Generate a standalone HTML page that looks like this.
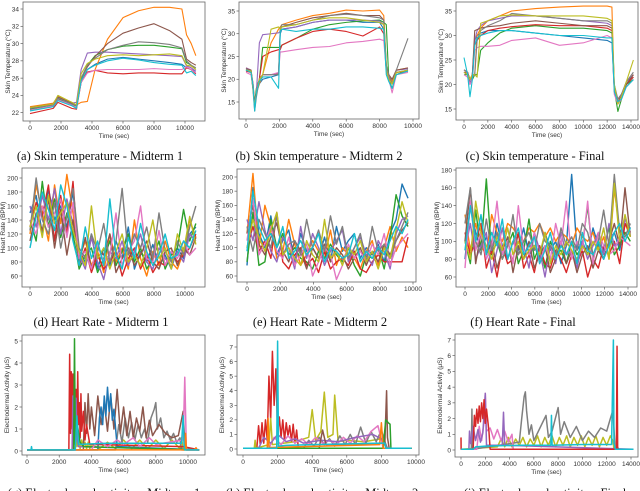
<!DOCTYPE html>
<html><head><meta charset="utf-8">
<style>
html,body{margin:0;padding:0;background:#fff;}
svg{display:block;}
.tk{font-family:"Liberation Sans",sans-serif;font-size:6.5px;fill:#333;}
.al{font-family:"Liberation Sans",sans-serif;font-size:6.5px;fill:#333;}
.cap{font-family:"Liberation Serif",serif;font-size:12.5px;fill:#111;}
</style></head>
<body>
<svg id="fig" width="640" height="491" viewBox="0 0 640 491" xmlns="http://www.w3.org/2000/svg">
<text class="cap" x="100" y="160" text-anchor="middle">(a) Skin temperature - Midterm 1</text>
<text class="cap" x="319" y="160" text-anchor="middle">(b) Skin temperature - Midterm 2</text>
<text class="cap" x="535" y="160" text-anchor="middle">(c) Skin temperature - Final</text>
<text class="cap" x="101" y="326" text-anchor="middle">(d) Heart Rate - Midterm 1</text>
<text class="cap" x="320" y="326" text-anchor="middle">(e) Heart Rate - Midterm 2</text>
<text class="cap" x="523" y="326" text-anchor="middle">(f) Heart Rate - Final</text>
<text class="cap" x="104" y="497" text-anchor="middle">(g) Electrodermal activity - Midterm 1</text>
<text class="cap" x="322" y="497" text-anchor="middle">(h) Electrodermal activity - Midterm 2</text>
<text class="cap" x="545" y="497" text-anchor="middle">(i) Electrodermal activity - Final</text>
</svg>
<script>
const colors=["#1f77b4","#ff7f0e","#2ca02c","#d62728","#9467bd","#8c564b","#e377c2","#7f7f7f","#bcbd22","#17becf"];
const seriesNames=["blue","orange","green","red","purple","brown","pink","gray","olive","cyan"];

const aTimes=[0,1500,1800,2700,3000,3300,3700,4200,5000,6000,7000,8000,9000,9800,10100,10400,10700];
const aBlue  =[22.5,23,23.8,23.1,22.8,25.5,27,27.6,28.2,28.4,28.2,28,27.8,27.6,27.2,27,26.8];
const aOrange=[22.7,23.1,23.9,23.2,22.9,23.2,23.3,27,30.5,33,33.8,34.2,34.2,34,31,30,28.6];
const aGreen =[22.4,22.9,23.6,23,22.6,25.8,27.5,28.6,29.3,29.7,29.8,29.8,29.6,29.4,27.8,27.5,27];
const aRed   =[21.9,22.5,23.2,22.5,22.4,25.5,26.7,26.9,26.6,26.5,26.6,26.6,26.5,26.5,27.2,27,26.5];
const aPurple=[22.5,23,23.8,23.1,23.2,27,28.9,29,29,28.9,28.8,28.7,28.6,28.5,27.4,27.2,26.8];
const aBrown =[22.6,23,23.8,23.1,22.8,26,27.3,28.5,30,31.2,31.8,32.3,31.5,30.5,28.2,27.8,27.5];
const aPink  =[22.3,22.8,23.5,22.9,22.6,25.5,26.6,26.9,27,27,27,27.1,27,27,27.3,27,26.6];
const aGray  =[22.5,22.9,23.7,23,22.9,26,27.5,28.3,29.3,29.8,30.2,30.1,29.9,29.5,28,27.5,27.2];
const aOlive =[22.6,23,24,23.2,22.9,26.5,27.7,28.2,28.6,28.7,28.6,28.7,28.8,28.6,27.5,27.4,27];
const aCyan  =[22.2,22.7,23.4,22.8,22.5,25.7,27,27.5,28,28.3,28.1,27.8,27.6,27.5,26.6,26.8,26.3];
const aSeries=[aBlue,aOrange,aGreen,aRed,aPurple,aBrown,aPink,aGray,aOlive,aCyan];

const bTimes=[0,300,420,520,620,800,1000,1500,1950,2050,2150,3000,4000,5000,6000,7000,8000,8250,8400,8550,8750,9000,9700];
const bBlue  =[22,21.5,19,14,17,19,20,20.5,21,30,31,31.5,32.5,33,33,32.5,32.5,31,22,20,19,21.5,22];
const bOrange=[22.5,22,19,15,17,19,21,28,31,31.5,32,33,34,34.5,35.2,35,35.2,34,23,21,19.5,22,22.5];
const bGreen =[22,21.8,18,15,18,20,27,27,27,27,27.5,29,31,32,32.5,32.8,33,32.5,32,20,18,21,22];
const bRed   =[21.8,21.5,18,15,17,20,25,26,26.5,26.5,27.5,29,30.5,31,30.5,29.5,31.5,30,22,20,19,21.5,21.8];
const bPurple=[22.5,22,19,14,17,28,29.8,30,30.2,30.5,31,31.5,32.5,33,33,33,32.8,32,22,20.5,19,22,22.3];
const bBrown =[22.3,22,18,15,17,20,21,21,21.2,31,31.5,32.5,33.5,34,34.5,34,34,33,23,21,20,22,22.5];
const bPink  =[21.5,21,18,14,17,20,21,21,21.5,26,26,26.5,27,27.2,28,28.3,28.8,28.5,22,20,17,21,21.5];
const bGray  =[22.2,21.8,17.5,13,16,20,21,21,21,31,32,32,33,34,34.3,34,33.5,33,23,21,19,22,29];
const bOlive =[22,21.8,18,14,17,20,21,31,31.5,31,31.5,32,33,33.5,33.5,33,32.5,32,22,20,19,21.5,22];
const bCyan  =[22,21.5,18.5,13,17,19.5,20.5,20.5,18,30.5,31,30.5,31,31,31.5,31.5,31.2,31,21,19.5,18,21,21.8];
const bSeries=[bBlue,bOrange,bGreen,bRed,bPurple,bBrown,bPink,bGray,bOlive,bCyan];

const cTimes=[0,300,500,700,900,1100,1400,2000,3000,4000,6000,8000,10000,12000,12400,12600,12900,13200,13600,14200];
const cBlue  =[22.5,22,21,22,29,30,30.5,31,31,31,30.5,30,29.5,29,28.5,19,17,18,20,21.5];
const cOrange=[23,22.5,21,22,22,30,31.5,33,34,35,35.5,35.8,36,36,35.8,19,17,18,20,22];
const cGreen =[22,22,20.5,21,22,22,27,28.5,30.5,31.5,32,31.5,31.5,31,30.5,19,14.5,17,20,21];
const cRed   =[22.5,22.5,21,22,28,29,30,31,31.5,31.8,32.2,32,32,31.5,31,18.5,17,17.5,20,21.5];
const cPurple=[23,22.5,20,22,29,31,32,33,33.5,34,34,33.5,33,32.5,32,19,17,18,20.5,22];
const cBrown =[22.5,22,21,22,31,31.2,31.5,31.8,32,32.5,33,32.5,32,32,31.5,19,16.5,17.5,20,22];
const cPink  =[22,21.5,20,21,27,27.5,27.8,27.8,28,29,29.5,28,28.5,30,29.5,18,16,17,19.5,21];
const cGray  =[23,22.5,21,21.5,22,29,31,32,33,34.5,34,33.5,33,33,32.5,20,17,18,20.5,22.5];
const cOlive =[22.5,22,21,22,22,21.5,32.5,33,34,34.2,34,34,34,33.5,33,20,16,17.5,20.5,25];
const cCyan  =[25.5,22,17.5,21,28,29.5,30,30.5,31,31,30.5,30,30,29.5,29.5,18.5,16.5,17,19.5,21];
const cSeries=[cBlue,cOrange,cGreen,cRed,cPurple,cBrown,cPink,cGray,cOlive,cCyan];

const dEnd=[10700];
const dBlue  =[150,175,120,185,140,160,130,180,95,80,120,70,100,75,110,85,130,70,95,80,105,75,90,70,100,85,120,130];
const dOrange=[120,190,150,110,190,135,205,150,85,110,75,95,65,120,80,100,70,140,85,60,95,75,110,80,70,95,140,115];
const dGreen =[140,110,195,130,170,115,150,120,70,90,100,65,85,110,75,95,120,80,100,70,85,110,70,90,100,155,110,135];
const dRed   =[130,165,145,190,110,175,120,195,75,100,65,90,70,80,95,60,85,100,70,90,65,80,75,95,80,90,100,120];
const dPurple=[160,130,175,140,185,120,170,135,90,70,115,80,55,95,85,110,75,95,120,80,70,100,85,75,95,80,120,110];
const dBrown =[110,150,125,170,100,155,90,140,80,115,70,100,90,120,65,85,100,75,90,110,80,70,95,100,75,100,90,115];
const dPink  =[140,120,160,130,150,170,115,165,85,95,70,105,80,90,150,75,95,110,160,85,80,125,75,95,85,110,90,100];
const dGray  =[125,200,140,120,165,100,145,185,100,85,120,95,135,80,110,185,90,120,100,130,85,150,95,80,110,90,130,160];
const dOlive =[130,160,115,175,135,150,165,125,95,75,160,85,100,70,95,120,80,90,75,100,140,85,100,70,120,95,145,105];
const dCyan  =[100,145,180,155,125,190,160,110,75,130,85,110,75,170,90,70,115,85,135,95,75,90,120,85,90,110,100,125];
const dSeries=[dBlue,dOrange,dGreen,dRed,dPurple,dBrown,dPink,dGray,dOlive,dCyan];

const eEnd=[9700];
const eBlue  =[75,185,120,100,145,90,110,125,80,120,95,100,85,115,80,130,95,110,120,85,100,90,105,80,120,140,190,170];
const eOrange=[120,205,100,160,130,85,95,140,105,75,90,110,95,85,125,75,100,90,85,70,95,110,75,100,130,95,115,100];
const eGreen =[80,150,75,80,140,100,120,90,100,85,80,70,95,85,105,90,80,100,75,60,90,85,100,70,115,175,145,130];
const eRed   =[100,130,95,110,85,150,80,70,90,100,75,85,65,95,70,80,85,75,95,70,65,80,90,80,80,80,80,115];
const ePurple=[140,110,165,125,95,80,115,100,70,130,85,120,100,75,95,110,125,80,100,115,90,75,110,95,70,120,140,145];
const eBrown =[120,160,105,90,115,135,95,80,110,95,70,100,85,105,80,100,90,70,85,100,75,95,80,105,90,110,125,135];
const ePink  =[110,170,90,105,130,95,85,115,75,90,105,60,80,100,90,55,75,105,85,95,80,105,90,120,75,100,110,120];
const eGray  =[130,95,140,120,100,145,90,105,110,90,140,100,125,95,145,105,130,85,100,120,80,130,95,105,85,110,130,150];
const eOlive =[100,140,115,95,125,150,90,100,85,75,110,90,80,140,85,95,75,100,90,110,80,95,70,100,85,125,165,135];
const eCyan  =[95,180,130,110,120,100,130,85,95,110,90,100,120,80,100,95,85,90,120,80,95,85,100,90,110,130,120,140];
const eSeries=[eBlue,eOrange,eGreen,eRed,ePurple,eBrown,ePink,eGray,eOlive,eCyan];

const fEnd=[14200];
const fBlue  =[80,140,110,90,105,85,120,95,80,100,90,115,85,95,80,110,90,100,75,95,175,90,100,85,115,95,80,100,110,90,120,115];
const fOrange=[130,90,120,95,85,130,110,100,120,115,105,100,115,110,120,105,115,100,110,105,95,115,105,100,110,90,105,80,160,110,120,105];
const fGreen =[100,75,135,90,170,85,100,80,95,110,75,90,125,80,95,70,100,85,90,75,100,85,95,140,80,100,90,115,85,95,110,100];
const fRed   =[110,85,100,120,70,90,60,95,75,80,110,70,85,65,95,75,70,90,80,65,85,75,90,60,80,70,95,85,100,75,120,110];
const fPurple=[90,120,80,95,110,65,90,115,80,100,85,95,70,110,90,60,95,75,110,85,90,70,100,80,95,110,85,120,95,100,125,110];
const fBrown =[100,160,75,110,85,100,70,90,105,65,95,80,100,70,85,95,65,80,100,75,90,65,85,95,70,90,80,100,120,95,160,105];
const fPink  =[70,145,90,110,80,95,145,85,100,75,140,90,85,110,75,95,80,120,95,145,80,100,90,145,75,110,95,85,90,105,100,95];
const fGray  =[120,160,100,85,125,90,110,80,95,130,85,100,110,90,120,100,95,85,115,95,105,90,120,110,85,100,135,95,175,110,105,120];
const fOlive =[100,80,145,110,95,80,105,90,115,85,100,80,90,95,85,110,75,95,85,100,90,80,95,85,100,90,115,80,165,100,130,105];
const fCyan  =[90,140,100,130,85,110,95,125,80,100,115,85,95,105,75,90,110,80,95,85,100,75,110,90,85,100,80,95,110,120,100,115];
const fSeries=[fBlue,fOrange,fGreen,fRed,fPurple,fBrown,fPink,fGray,fOlive,fCyan];

const gOliveT=[0,2800,2900,2950,3000,3100,3200,3300,3400,3500,3600,3700,3800,3900,4000,4500,5000,5500,6000,6500,7000,7500,8000,8500,9000,9500,9600,9700,10700];
const gOliveV=[0.05,0.05,1.2,0.1,0.9,0.2,0.6,0.1,0.5,0.2,0.4,0.1,0.4,0.1,0.3,0.1,0.4,0.1,0.5,0.1,0.5,0.1,0.5,0.1,0.5,0.1,0.6,0.05,0.05];
const gGrayT=[0,5500,5700,5900,6100,6300,6500,6700,6900,7100,7300,7500,7700,7900,8000,8100,8300,8500,8700,8900,9100,9300,9500,9600,10700];
const gGrayV=[0.05,0.05,1.2,0.4,1.5,0.6,1.3,0.5,1.2,0.6,1.0,0.4,1.5,1.9,2.2,1.0,1.5,0.6,0.9,0.5,0.8,0.4,0.6,0.05,0.05];
const gBrownT=[0,3500,3600,3700,3800,3900,4000,4200,4400,4600,4800,5000,5200,5400,5600,5800,6000,6200,6400,6600,6800,7000,7200,7400,7600,7800,8200,8600,9000,9400,9700,9800,9900,10700];
const gBrownV=[0.05,0.05,2.2,0.8,2.6,1.0,2.0,0.7,2.5,1.2,2.2,0.9,2.5,1.0,2.8,0.8,2.0,0.7,1.8,0.6,1.5,0.9,2.0,0.6,1.4,0.7,1.2,0.8,0.6,0.7,1.8,0.3,0.05,0.05];
const gBlueT=[0,4400,4500,4600,4700,4800,4900,5000,5100,5200,5300,5400,5600,10700];
const gBlueV=[0.05,0.05,1.5,2.0,1.2,2.5,1.6,2.9,1.8,2.6,1.4,1.9,0.2,0.05];
const gRedT=[0,2600,2650,2700,2750,2800,2850,2900,2950,3000,3050,3100,3150,3200,3250,3300,3350,3400,3500,3600,3700,3900,9700,10700];
const gRedV=[0.05,0.05,4.4,0.8,3.6,1.0,3.5,0.9,3.2,0.6,2.8,0.8,3.6,1.2,2.2,0.6,2.6,0.9,1.8,0.5,1.2,0.3,0.2,0.05];
const gPurpleT=[0,2800,2850,2900,2950,3000,3050,3100,3200,10700];
const gPurpleV=[0.05,0.05,2.5,1.5,3.1,1.2,2.4,0.6,0.2,0.05];
const gGreenT=[0,2900,2950,3000,3100,3300,3500,10700];
const gGreenV=[0.05,0.05,5.1,0.3,1.3,0.4,0.2,0.05];
const gPinkT=[0,4000,4400,5000,5600,6000,6600,7000,7600,8000,9700,9800,9900,10700];
const gPinkV=[0.05,0.05,0.5,0.2,0.5,0.3,0.6,0.2,0.6,0.3,0.5,3.35,0.05,0.05];
const gOrangeT=[0,9800,9850,9900,10400,10500,10550,10700];
const gOrangeV=[0.05,0.05,0.8,0.05,0.05,0.15,0.05,0.05];
const gCyanT=[0,250,280,310,3000,3100,3200,5000,7000,9000,9600,9700,9750,9800,10700];
const gCyanV=[0.05,0.05,0.2,0.05,0.05,1.6,0.3,0.35,0.35,0.35,0.35,1.6,0.3,0.05,0.05];
const gSeriesT=[gOliveT,gGrayT,gBrownT,gBlueT,gRedT,gPurpleT,gGreenT,gPinkT,gOrangeT,gCyanT];
const gSeriesV=[gOliveV,gGrayV,gBrownV,gBlueV,gRedV,gPurpleV,gGreenV,gPinkV,gOrangeV,gCyanV];
const gColors=[8,7,5,0,3,4,2,6,1,9];

const hRedT=[0,800,900,1000,1100,1200,1300,1400,1500,1600,1700,1800,1900,2000,2100,2200,2300,2400,2500,2600,2700,2800,2900,3000,3100,3200,9750];
const hRedV=[0.05,0.05,1.6,0.3,1.8,0.4,2.0,0.6,5.0,2.0,6.7,3.0,5.5,1.0,2.2,0.8,2.0,0.6,1.8,0.9,1.6,0.5,1.7,0.4,1.3,0.05,0.05];
const hOliveT=[0,650,700,750,1500,1600,1700,3000,3800,4000,4200,4500,4700,4900,5200,5300,5500,6000,7000,8000,8200,8300,9750];
const hOliveV=[0.05,0.05,0.6,0.05,0.3,2.1,0.3,0.5,0.8,2.7,0.6,1.2,3.9,0.8,1.0,3.7,0.5,0.6,0.5,0.7,0.5,0.05,0.05];
const hGrayT=[0,3500,3800,4100,4400,4700,5000,5300,5600,5900,6200,6500,6800,7100,7400,7700,8000,8200,8350,9750];
const hGrayV=[0.05,0.05,0.6,0.2,0.8,0.3,0.7,0.2,0.9,0.3,1.0,0.3,1.5,0.4,1.2,0.5,1.3,0.5,0.05,0.05];
const hPinkT=[0,1500,1800,2200,2600,3000,3400,3800,4200,4600,5000,5400,5800,6200,6600,7000,7400,7800,8000,8100,9750];
const hPinkV=[0.05,0.05,0.8,0.3,0.9,0.4,0.7,0.3,0.8,0.4,0.6,0.3,0.8,0.4,0.9,0.5,1.2,1.6,0.6,0.05,0.05];
const hPurpleT=[0,900,1200,1600,2000,2500,3000,3500,4500,5500,6500,7500,8000,8300,9750];
const hPurpleV=[0.05,0.05,0.8,0.4,1.0,0.5,0.7,0.4,0.6,0.5,0.8,1.0,0.7,0.05,0.05];
const hBrownT=[0,4400,4600,4800,8200,8300,8350,8450,9750];
const hBrownV=[0.05,0.05,1.3,0.3,0.4,4.0,0.8,0.05,0.05];
const hGreenT=[0,8100,8250,8400,8500,8550,9750];
const hGreenV=[0.05,0.05,2.0,1.8,1.7,0.05,0.05];
const hOrangeT=[0,1400,1450,1500,7900,8000,8100,9750];
const hOrangeV=[0.05,0.05,2.1,0.1,0.3,1.8,0.05,0.05];
const hCyanT=[0,1950,2000,2050,2500,4000,6000,8000,8200,8250,9750];
const hCyanV=[0.05,0.05,7.4,0.2,0.25,0.3,0.35,0.4,0.4,0.05,0.05];
const hSeriesT=[hRedT,hOliveT,hGrayT,hPinkT,hPurpleT,hBrownT,hGreenT,hOrangeT,hCyanT];
const hSeriesV=[hRedV,hOliveV,hGrayV,hPinkV,hPurpleV,hBrownV,hGreenV,hOrangeV,hCyanV];
const hColors=[3,8,7,6,4,5,2,1,9];

const iOliveT=[0,3000,3300,3600,3900,4200,4500,4800,5100,5400,5700,6000,6300,6600,6900,7200,7500,7800,8100,8400,8700,9000,9300,9600,9900,10200,10500,10800,11100,11400,11700,12000,12300,12500,12600,14200];
const iOliveV=[0.05,0.2,0.7,0.2,0.8,0.2,0.7,0.3,0.8,0.2,0.7,0.3,0.9,0.2,0.8,0.3,0.9,0.2,0.8,0.3,0.9,0.2,0.8,0.3,0.9,0.2,0.8,0.3,0.9,0.2,0.8,0.3,0.9,0.6,0.05,0.05];
const iGrayT=[0,850,900,950,4800,5000,5200,5300,5400,5600,5800,6000,6500,7000,7200,7500,8000,8200,8500,9000,9500,10000,10500,11000,11500,12000,12300,12500,12700,14200];
const iGrayV=[0.05,0.05,2.6,0.05,0.5,2.0,3.4,3.7,2.5,1.0,1.6,0.6,1.4,2.2,0.8,1.2,2.7,1.0,1.8,0.8,1.5,0.6,1.2,0.8,1.4,1.2,2.0,2.5,0.05,0.05];
const iPinkT=[0,1300,1500,1700,1900,2000,2100,2400,2700,3000,3300,3600,3900,4200,4300,14200];
const iPinkV=[0.05,0.05,1.5,0.6,1.8,3.6,1.2,1.4,0.7,1.3,0.6,1.2,0.5,1.0,0.05,0.05];
const iPurpleT=[0,650,700,800,1000,1200,1400,1600,1800,2000,2100,3400,3500,3600,14200];
const iPurpleV=[0.05,0.05,1.2,0.4,1.5,0.6,1.3,0.5,1.1,3.6,0.3,0.3,2.4,0.3,0.05];
const iRedT=[0,10,40,1000,1100,1200,1300,1400,1500,1600,1700,1800,1900,2000,2100,2300,2400,12800,12850,12900,12950,14200];
const iRedV=[0.8,0.05,0.05,0.05,2.2,1.5,2.6,1.7,2.8,1.8,3.0,2.0,3.2,1.7,2.6,1.2,0.05,0.05,6.6,0.2,0.05,0.05];
const iCyanT=[0,1000,1200,2000,5000,7400,7450,7500,10000,12400,12550,12600,12650,12700,14200];
const iCyanV=[0.05,0.05,0.2,0.25,0.3,0.3,2.2,0.3,0.35,0.35,7.0,0.4,0.3,0.05,0.05];
const iSeriesT=[iOliveT,iGrayT,iPinkT,iPurpleT,iRedT,iCyanT];
const iSeriesV=[iOliveV,iGrayV,iPinkV,iPurpleV,iRedV,iCyanV];
const iColors=[8,7,6,4,3,9];

const xTicks10k=[0,2000,4000,6000,8000,10000];
const xTicks14k=[0,2000,4000,6000,8000,10000,12000,14000];
const yTicksA=[22,24,26,28,30,32,34];
const yTicksBC=[15,20,25,30,35];
const yTicksDE=[60,80,100,120,140,160,180,200];
const yTicksF=[60,80,100,120,140,160,180];
const yTicksG=[0,1,2,3,4,5];
const yTicksHI=[0,1,2,3,4,5,6,7];

const NS="http://www.w3.org/2000/svg";
const svg=document.getElementById('fig');
function mk(tag,attrs,parent){const e=document.createElementNS(NS,tag);for(const k in attrs)e.setAttribute(k,attrs[k]);(parent||svg).appendChild(e);return e;}

function panel(id,box,xm,ym,xt,yt,ylabel){
  const g=mk('g',{});
  
  
  const X=v=>xm[1]+(v-xm[0])*(xm[3]-xm[1])/(xm[2]-xm[0]);
  const Y=v=>ym[1]+(v-ym[0])*(ym[3]-ym[1])/(ym[2]-ym[0]);
  const clipId='clip'+id;
  const cp=mk('clipPath',{id:clipId},g);
  mk('rect',{x:box[0],y:box[1],width:box[2]-box[0],height:box[3]-box[1]},cp);
  const plot=mk('g',{'clip-path':'url(#'+clipId+')'},g);
  
  
  xt.forEach(v=>{
    const x=X(v);
    mk('line',{x1:x,x2:x,y1:box[3],y2:box[3]+2.5,stroke:'#444','stroke-width':0.6},g);
    const t=mk('text',{x:x,y:box[3]+9,'text-anchor':'middle',class:'tk'},g);
    t.textContent=v;
    
    
  });
  yt.forEach(v=>{
    const y=Y(v);
    mk('line',{x1:box[0]-2.5,x2:box[0],y1:y,y2:y,stroke:'#444','stroke-width':0.6},g);
    const t=mk('text',{x:box[0]-4,y:y+2.3,'text-anchor':'end',class:'tk'},g);
    t.textContent=v;
    
    
  });
  const xl=mk('text',{x:(box[0]+box[2])/2,y:box[3]+17,'text-anchor':'middle',class:'al'},g);
  xl.textContent='Time (sec)';
  
  
  const yx=box[0]-(yt[yt.length-1]>=100?17:13);
  const yy=(box[1]+box[3])/2;
  const yl=mk('text',{x:yx,y:yy,'text-anchor':'middle',class:'al',transform:'rotate(-90 '+yx+' '+yy+')'},g);
  yl.textContent=ylabel;
  
  
  const frame=mk('rect',{x:box[0],y:box[1],width:box[2]-box[0],height:box[3]-box[1],fill:'none',stroke:'#666','stroke-width':0.8},g);
  
  
  return {X,Y,plot};
}
function line(p,ts,vs,color,name,w){
  let d='';
  for(let i=0;i<vs.length;i++){d+=(i?'L':'M')+p.X(ts[i]).toFixed(2)+' '+p.Y(vs[i]).toFixed(2);}
  const el=mk('path',{d:d,fill:'none',stroke:color,'stroke-width':w||1.1,'stroke-linejoin':'round'},p.plot);
  
  
}
function evenTimes(n,end){const t=[];for(let i=0;i<n;i++)t.push(end*i/(n-1));return t;}

let p;
p=panel('a',[23,2,205,121],[0,30,10000,185],[22,112.7,34,9],xTicks10k,yTicksA,'Skin Temperature (°C)');
aSeries.forEach((s,i)=>line(p,aTimes,s,colors[i],'series-'+seriesNames[i]));
p=panel('b',[239,2,419,119],[0,246,10000,413],[35,11,15,102],xTicks10k,yTicksBC,'Skin Temperature (°C)');
bSeries.forEach((s,i)=>line(p,bTimes,s,colors[i],'series-'+seriesNames[i]));
p=panel('c',[456,2,638,120],[0,464,14000,631],[35,11,15,109],xTicks14k,yTicksBC,'Skin Temperature (°C)');
cSeries.forEach((s,i)=>line(p,cTimes,s,colors[i],'series-'+seriesNames[i]));

p=panel('d',[22,168,205,287],[0,30,10000,185],[200,178,60,276],xTicks10k,yTicksDE,'Heart Rate (BPM)');
dSeries.forEach((s,i)=>line(p,evenTimes(s.length,dEnd[0]),s,colors[i],'series-'+seriesNames[i],1.4));
p=panel('e',[237,169,416,282],[0,247,10000,413],[200,177,60,276],xTicks10k,yTicksDE,'Heart Rate (BPM)');
eSeries.forEach((s,i)=>line(p,evenTimes(s.length,eEnd[0]),s,colors[i],'series-'+seriesNames[i],1.4));
p=panel('f',[456,168,637,287],[0,465,14000,628],[180,170,60,277],xTicks14k,yTicksF,'Heart Rate (BPM)');
fSeries.forEach((s,i)=>line(p,evenTimes(s.length,fEnd[0]),s,colors[i],'series-'+seriesNames[i],1.4));

p=panel('g',[22,335,205,455],[0,27,10000,188],[5,341,0,451],xTicks10k,yTicksG,'Electrodermal Activity (μS)');
gSeriesT.forEach((t,i)=>line(p,t,gSeriesV[i],colors[gColors[i]],'series-'+seriesNames[gColors[i]],1.5));
p=panel('h',[237,335,419,455],[0,243,10000,416],[7,347,0,449],xTicks10k,yTicksHI,'Electrodermal Activity (μS)');
hSeriesT.forEach((t,i)=>line(p,t,hSeriesV[i],colors[hColors[i]],'series-'+seriesNames[hColors[i]],1.5));
p=panel('i',[455,334,638,457],[0,461,14000,631],[7,340,0,450],xTicks14k,yTicksHI,'Electrodermal Activity (μS)');
iSeriesT.forEach((t,i)=>line(p,t,iSeriesV[i],colors[iColors[i]],'series-'+seriesNames[iColors[i]],1.5));
</script>
</body></html>
